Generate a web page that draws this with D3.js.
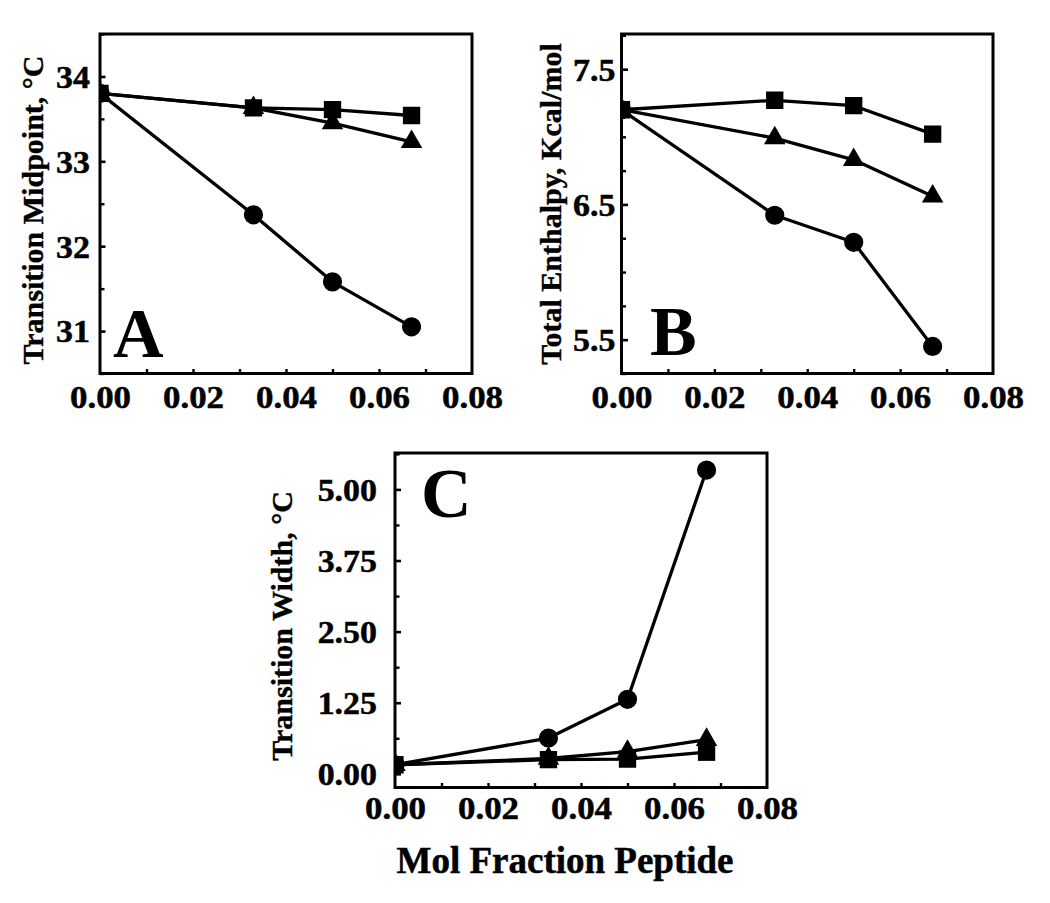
<!DOCTYPE html>
<html><head><meta charset="utf-8">
<script src="https://cdn.jsdelivr.net/npm/d3@7"></script>
<style>
body{margin:0;background:#fff}
svg{display:block}
text{font-family:"Liberation Serif","Times New Roman",serif;font-weight:bold;fill:#000}
</style>
</head><body><svg id="c" width="1050" height="903"></svg>
<script>
// ---------- data ----------
const molFraction = [0, 0.033, 0.05, 0.067];
const xTickValues = [0, 0.02, 0.04, 0.06, 0.08];
const xTickLabels = ["0.00", "0.02", "0.04", "0.06", "0.08"];

// Panel A: Transition Midpoint (°C)
const midpointCircles   = [33.80, 32.37, 31.58, 31.05];
const midpointTriangles = [33.80, 33.63, 33.45, 33.23];
const midpointSquares   = [33.80, 33.63, 33.61, 33.54];
const midpointTicks = [31, 32, 33, 34];
const midpointTickLabels = ["31", "32", "33", "34"];

// Panel B: Total Enthalpy (Kcal/mol)
const enthalpyCircles   = [7.20, 6.42, 6.22, 5.45];
const enthalpyTriangles = [7.20, 6.99, 6.83, 6.56];
const enthalpySquares   = [7.20, 7.27, 7.23, 7.02];
const enthalpyTicks = [5.5, 6.5, 7.5];
const enthalpyTickLabels = ["5.5", "6.5", "7.5"];

// Panel C: Transition Width (°C)
const widthCircles   = [0.16, 0.63, 1.31, 5.34];
const widthTriangles = [0.16, 0.27, 0.39, 0.60];
const widthSquares   = [0.16, 0.25, 0.26, 0.38];
const widthTicks = [0, 1.25, 2.5, 3.75, 5];
const widthTickLabels = ["0.00", "1.25", "2.50", "3.75", "5.00"];

// ---------- layout ----------
const panels = [
  {id:"A", box:{x0:100, x1:472, y0:34, y1:373.5}, yDomain:[30.5, 34.5], minorStep:0.5,
   ticks:midpointTicks, tickLabels:midpointTickLabels,
   series:[midpointCircles, midpointTriangles, midpointSquares],
   yLabel:"Transition Midpoint, °C", yLabelX:43, yLabelY:210,
   letterX:113, letterY:357, tickGap:10, xLabelBase:408, majorLen:5.5},
  {id:"B", box:{x0:621.5, x1:993, y0:34, y1:373.5}, yDomain:[5.25, 7.76], minorStep:0.25,
   ticks:enthalpyTicks, tickLabels:enthalpyTickLabels,
   series:[enthalpyCircles, enthalpyTriangles, enthalpySquares],
   yLabel:"Total Enthalpy, Kcal/mol", yLabelX:561, yLabelY:204,
   letterX:650, letterY:355, tickGap:6, xLabelBase:408, majorLen:6.5},
  {id:"C", box:{x0:395, x1:767, y0:453, y1:787.5}, yDomain:[-0.24, 5.64], minorStep:0.625,
   ticks:widthTicks, tickLabels:widthTickLabels,
   series:[widthCircles, widthTriangles, widthSquares],
   yLabel:"Transition Width, °C", yLabelX:292, yLabelY:626,
   letterX:421, letterY:517, tickGap:18, xLabelBase:819, majorLen:6}
];
const shapes = [d3.symbolCircle, d3.symbolTriangle, d3.symbolSquare];
const sizes = [290, 200, 300];

const svg = d3.select("#c");

function widen(sel, f) {
  sel.each(function () {
    const w = this.getComputedTextLength();
    d3.select(this).attr("textLength", w * f).attr("lengthAdjust", "spacingAndGlyphs");
  });
}

panels.forEach(p => {
  const b = p.box;
  const x = d3.scaleLinear().domain([0, 0.08]).range([b.x0, b.x1]);
  const y = d3.scaleLinear().domain(p.yDomain).range([b.y1, b.y0]);
  const g = svg.append("g");

  const clipId = "clip" + p.id;
  svg.append("clipPath").attr("id", clipId)
    .append("rect").attr("x", b.x0).attr("y", b.y0)
    .attr("width", b.x1 - b.x0).attr("height", b.y1 - b.y0);

  // x minor ticks (every 0.01), inward
  const xMinor = d3.range(1, 8).map(i => i * 0.01);
  g.append("g").attr("transform", `translate(0,${b.y1})`)
    .call(d3.axisBottom(x).tickValues(xMinor).tickSizeInner(-4.5).tickSizeOuter(0).tickFormat(""))
    .call(s => s.select(".domain").remove())
    .call(s => s.selectAll("line").attr("stroke-width", 2.4));
  // x labels
  g.append("g")
    .call(d3.axisBottom(x).tickValues(xTickValues).tickSize(0).tickFormat((d, i) => xTickLabels[i]))
    .call(s => s.select(".domain").remove())
    .call(s => s.selectAll("text").attr("dy", 0)
      .attr("font-size", 32).attr("font-family", "Liberation Serif").attr("font-weight", "bold")
      .attr("stroke", "#000").attr("stroke-width", 0.5)
      .attr("y", p.xLabelBase))
    .call(s => widen(s.selectAll("text"), 1.09));

  // y minor ticks
  const [d0, d1] = p.yDomain;
  const minor = d3.range(Math.ceil(d0 / p.minorStep) * p.minorStep, d1 + 1e-9, p.minorStep)
    .filter(v => !p.ticks.some(t => Math.abs(t - v) < 1e-6));
  g.append("g").attr("transform", `translate(${b.x0},0)`)
    .call(d3.axisLeft(y).tickValues(minor).tickSizeInner(-4.5).tickSizeOuter(0).tickFormat(""))
    .call(s => s.select(".domain").remove())
    .call(s => s.selectAll("line").attr("stroke-width", 2.4));
  // y major ticks + labels
  g.append("g").attr("transform", `translate(${b.x0},0)`)
    .call(d3.axisLeft(y).tickValues(p.ticks).tickSizeInner(-p.majorLen).tickSizeOuter(0)
      .tickFormat((d, i) => p.tickLabels[i]))
    .call(s => s.select(".domain").remove())
    .call(s => s.selectAll("line").attr("stroke-width", 2.6))
    .call(s => s.selectAll("text").attr("x", -p.tickGap).attr("dy", "0.34em")
      .attr("font-size", 32).attr("font-family", "Liberation Serif").attr("font-weight", "bold")
      .attr("stroke", "#000").attr("stroke-width", 0.5))
    .call(s => widen(s.selectAll("text"), 1.06));

  // series
  const line = d3.line().x((d, i) => x(molFraction[i])).y(d => y(d));
  const data = g.append("g").attr("clip-path", `url(#${clipId})`);
  p.series.forEach(vals => {
    data.append("path").datum(vals).attr("d", line)
      .attr("fill", "none").attr("stroke", "#000").attr("stroke-width", 3.3)
      .attr("stroke-linejoin", "round");
  });
  p.series.forEach((vals, si) => {
    data.selectAll(null).data(vals).enter().append("path")
      .attr("d", d3.symbol().type(shapes[si]).size(sizes[si]))
      .attr("transform", (d, i) => `translate(${x(molFraction[i])},${y(d)})`)
      .attr("fill", "#000");
  });

  // frame
  g.append("rect").attr("x", b.x0).attr("y", b.y0)
    .attr("width", b.x1 - b.x0).attr("height", b.y1 - b.y0)
    .attr("fill", "none").attr("stroke", "#000").attr("stroke-width", 3);

  // y label
  g.append("text").attr("transform", `translate(${p.yLabelX},${p.yLabelY}) rotate(-90)`)
    .attr("text-anchor", "middle").attr("font-size", 30)
    .attr("stroke", "#000").attr("stroke-width", 0.4).text(p.yLabel);

  // panel letter
  g.append("text").attr("x", p.letterX).attr("y", p.letterY)
    .attr("font-size", 70).text(p.id);
});

svg.append("text").attr("x", 565).attr("y", 873).attr("text-anchor", "middle")
  .attr("font-size", 37).attr("stroke", "#000").attr("stroke-width", 0.5)
  .text("Mol Fraction Peptide");
</script>
</body></html>
